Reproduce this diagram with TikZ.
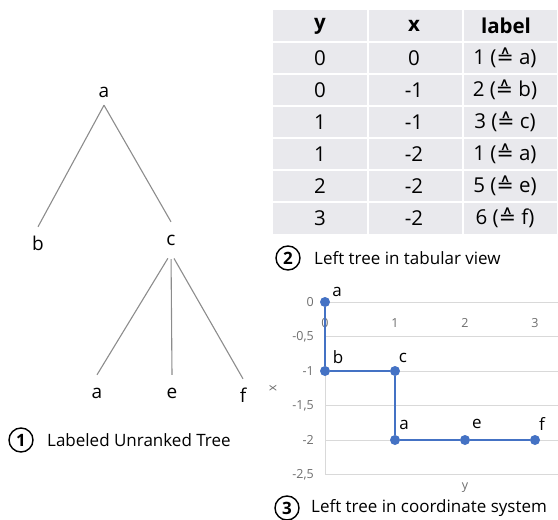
\documentclass[tikz,border=0pt]{standalone}
\usepackage{fontspec}
\setmainfont{Open Sans}
\newfontfamily\symfont{DejaVu Sans}
\definecolor{treegray}{RGB}{140,140,140}
\definecolor{cellgray}{RGB}{233,233,237}
\definecolor{gridgray}{RGB}{217,217,217}
\definecolor{ticktext}{RGB}{110,110,110}
\definecolor{seriesblue}{RGB}{68,114,196}
\newcommand{\eqhat}{{\symfont\char"2259}}
\begin{document}
\begin{tikzpicture}[x=1pt,y=-1pt,
  treelbl/.style={anchor=base, font=\fontsize{19}{22}\selectfont, inner xsep=0pt, inner ysep=8pt, text height=15pt, text depth=0pt},
  treeedge/.style={draw=treegray, line width=1.1pt},
  cell/.style={font=\fontsize{20.5}{24}\selectfont, inner sep=0pt},
  headcell/.style={cell, font=\fontsize{20.5}{24}\selectfont\bfseries},
  numcirc/.style={circle, draw=black, line width=1.4pt, minimum size=24pt, inner sep=0pt, font=\fontsize{17}{19}\selectfont\bfseries},
  caption/.style={anchor=west, font=\fontsize{17}{20}\selectfont, inner sep=0pt},
  gridline/.style={draw=gridgray, line width=1pt},
  ticklbl/.style={font=\fontsize{12.5}{15}\selectfont, text=ticktext, inner sep=0pt},
  dot/.style={circle, fill=seriesblue, minimum size=10pt, inner sep=0pt},
  series/.style={draw=seriesblue, line width=2.2pt},
  ptlbl/.style={font=\fontsize{17}{20}\selectfont, inner sep=0pt}]
\useasboundingbox (0,0) rectangle (558,520);

% ---- labeled unranked tree ----
\node[treelbl] (ta)  at (104,97)  {a};
\node[treelbl] (tb)  at (38,250)  {b};
\node[treelbl] (tc)  at (171,245) {c};
\node[treelbl] (ta2) at (97,398)  {a};
\node[treelbl] (te)  at (172,398) {e};
\node[treelbl] (tf)  at (243,402) {f};
\draw[treeedge] (ta.south) -- (tb.north);
\draw[treeedge] (ta.south) -- (tc.north);
\draw[treeedge, shorten <=6pt] (tc.south) -- (ta2.north);
\draw[treeedge, shorten <=6pt] (tc.south) -- (te.north);
\draw[treeedge, shorten <=6pt] (tc.south) -- (tf.north);

\node[numcirc] (n1) at (21,440) {1};
\node[caption] (cap1) at (47,440) {Labeled Unranked Tree};

% ---- tabular view ----
\fill[cellgray] (273,10) rectangle (557,234);
\foreach \yy in {42,74,106,138,170,202}
  \draw[white, line width=2pt] (273,\yy) -- (557,\yy);
\foreach \xx in {367.5,462.5}
  \draw[white, line width=2pt] (\xx,10) -- (\xx,234);
\node[headcell] (h1) at (320,26) {y};
\node[headcell] (h2) at (414,26) {x};
\node[headcell] (h3) at (506,26) {label};
\foreach \r/\a/\b in {1/0/0, 2/0/-1, 3/1/-1, 4/1/-2, 5/2/-2, 6/3/-2}{
  \node[cell] (r\r a) at (320,{26+32*\r}) {\a};
  \node[cell] (r\r b) at (414,{26+32*\r}) {\b};
}
\node[cell] (r1c) at (505,58)  {1 (\eqhat{} a)};
\node[cell] (r2c) at (505,90)  {2 (\eqhat{} b)};
\node[cell] (r3c) at (505,122) {3 (\eqhat{} c)};
\node[cell] (r4c) at (505,154) {1 (\eqhat{} a)};
\node[cell] (r5c) at (505,186) {5 (\eqhat{} e)};
\node[cell] (r6c) at (505,218) {6 (\eqhat{} f)};

\node[numcirc] (n2) at (288,258) {2};
\node[caption] (cap2) at (314,258) {Left tree in tabular view};

% ---- coordinate system ----
\foreach \v/\t in {0/0, 0.5/-0{,}5, 1/-1, 1.5/-1{,}5, 2/-2, 2.5/-2{,}5}{
  \draw[gridline] (325,{302+69*\v}) -- (558,{302+69*\v});
  \node[ticklbl, anchor=east] at (314,{302+69*\v}) {\t};
}
\draw[gridline] (325,302) -- (325,474.5);
\foreach \v in {0,1,2,3}
  \node[ticklbl] at ({325+70*\v},323) {\v};
\node[ticklbl, rotate=90] (xt) at (273,388) {x};
\node[ticklbl] (yt) at (465,488) {y};

\node[dot] (p1) at (325,302) {};
\node[dot] (p2) at (325,371) {};
\node[dot] (p3) at (395,371) {};
\node[dot] (p4) at (395,440) {};
\node[dot] (p5) at (465,440) {};
\node[dot] (p6) at (535,440) {};
\draw[series] (p1) -- (p2) -- (p3) -- (p4) -- (p5) -- (p6);

\node[ptlbl] (l1) at (337,292) {a};
\node[ptlbl] (l2) at (338,357) {b};
\node[ptlbl] (l3) at (403,358) {c};
\node[ptlbl] (l4) at (404,425) {a};
\node[ptlbl] (l5) at (477,424) {e};
\node[ptlbl] (l6) at (542,424) {f};

\node[numcirc] (n3) at (287,508) {3};
\node[caption] (cap3) at (311,508) {Left tree in coordinate system};
\end{tikzpicture}
\end{document}
